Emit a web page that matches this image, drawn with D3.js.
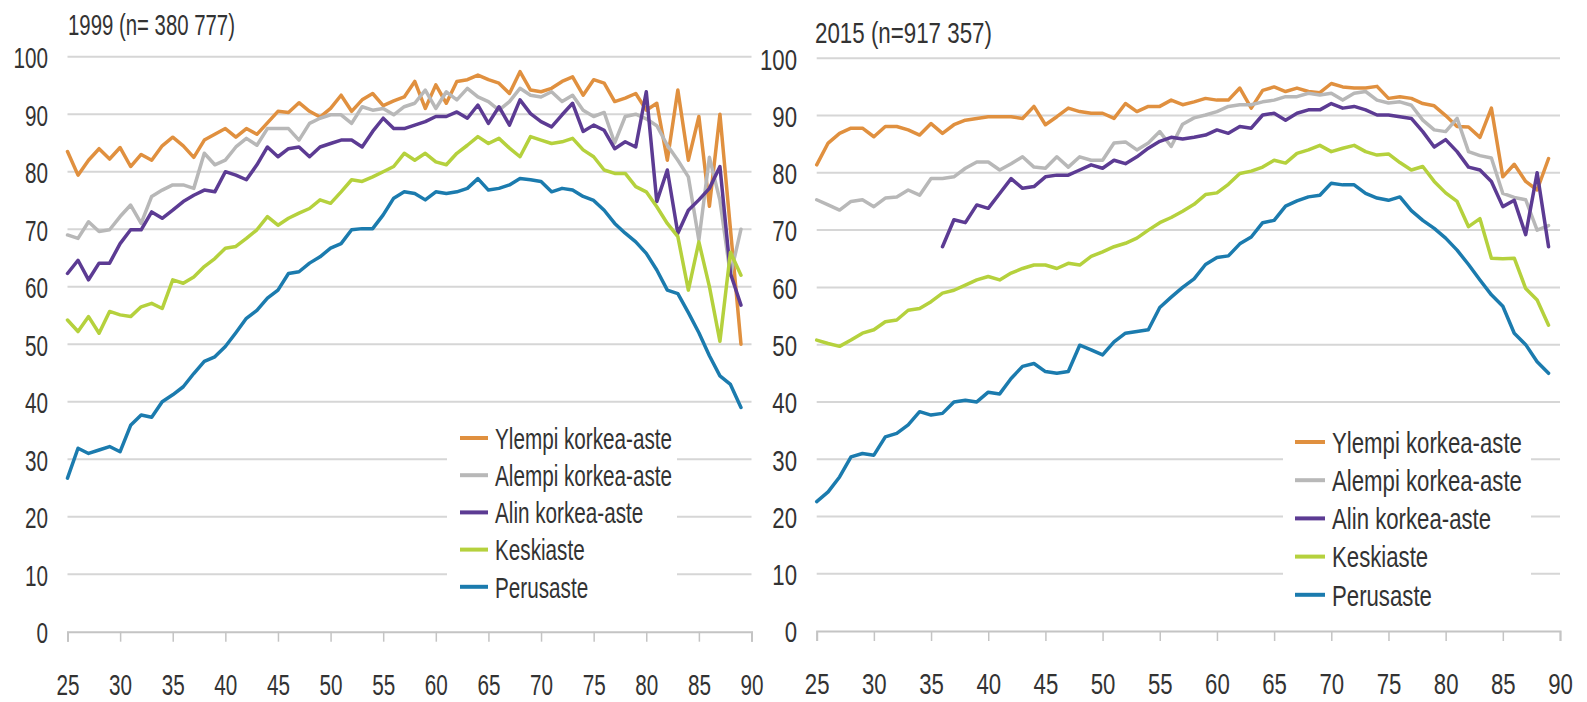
<!DOCTYPE html>
<html><head><meta charset="utf-8">
<script src="https://cdn.jsdelivr.net/npm/d3@7"></script>
<style>body{margin:0;background:#fff} svg{display:block} text{font-family:"Liberation Sans",Arial,sans-serif;}</style>
</head><body><svg id="c" width="1587" height="702"></svg>
<script>
const ages = [25,26,27,28,29,30,31,32,33,34,35,36,37,38,39,40,41,42,43,44,45,46,47,48,49,50,51,52,53,54,55,56,57,58,59,60,61,62,63,64,65,66,67,68,69,70,71,72,73,74,75,76,77,78,79,80,81,82,83,84,85,86,87,88,89];
const seriesNames = ["Ylempi korkea-aste","Alempi korkea-aste","Alin korkea-aste","Keskiaste","Perusaste"];
const seriesColors = ["#E0903F","#B8B8B8","#5C3B93","#B5D13D","#1B7BAE"];
const xTicks = [25,30,35,40,45,50,55,60,65,70,75,80,85,90];
const yTicks = [0,10,20,30,40,50,60,70,80,90,100];
const titles = ["1999 (n= 380 777)","2015 (n=917 357)"];

// 1999
const ylempi1999 = [83.5,79.4,82,84,82.2,84.2,80.9,83,82,84.5,86,84.5,82.5,85.5,86.5,87.5,86,87.5,86.5,88.5,90.5,90.3,92,90.5,89.5,91,93.3,90.5,92.5,93.6,91.5,92.3,93,95.7,91,95.1,91.9,95.7,96,96.8,96,95.4,93.6,97.4,94.2,93.9,94.5,95.7,96.5,93.3,96,95.4,92.2,92.8,93.6,90.7,91.9,82,94.2,82,89.6,74,90,70,50];
const alempi1999 = [69,68.4,71.3,69.6,69.9,72.2,74.2,71,75.7,76.8,77.7,77.7,77.1,83.2,81.2,82,84.3,85.8,84.6,87.5,87.5,87.5,85.5,88.4,89.3,89.9,89.9,88.4,91.3,90.7,91,89.9,91.3,91.9,94.2,91,93.9,92.5,94.5,93,92.2,90.7,92.2,94.5,93.3,93,93.9,92.2,93.3,90.7,89.6,90.3,85,89.6,90,89.2,88,84.6,82,79.1,68.1,82.5,75,62,70];
const alin1999 = [62.3,64.6,61.2,64.1,64.1,67.5,69.9,69.9,73,71.9,73.3,74.8,75.9,76.8,76.5,80,79.4,78.6,81.2,84.3,82.6,84,84.3,82.6,84.3,84.9,85.5,85.5,84.3,87,89.3,87.5,87.5,88.1,88.7,89.6,89.6,90.4,89.3,91.6,88.4,91.3,88.1,92.5,90.1,88.7,87.8,89.9,91.9,87,88.1,87.2,84,85.2,84.3,93.9,74.8,80.3,69.3,73.3,75.1,77.1,80.9,62.3,56.8];
const keski1999 = [54.2,52.2,54.8,51.9,55.7,55.1,54.8,56.5,57.1,56.2,61.2,60.6,61.7,63.5,64.9,66.7,67,68.4,69.9,72.2,70.7,71.9,72.8,73.6,75.1,74.5,76.5,78.6,78.3,79.1,80,80.9,83.2,82,83.2,81.7,81.2,83.2,84.6,86.1,84.9,85.8,84.1,82.6,86.1,85.5,84.9,85.2,85.8,83.8,82.6,80.3,79.7,79.7,77.4,76.5,73.9,71,68.7,59.4,67.8,60,50.5,66,62];
const perus1999 = [26.7,31.9,31,31.6,32.2,31.3,35.9,37.7,37.3,40,41.2,42.6,44.9,47,47.8,49.6,52,54.5,55.9,58,59.4,62.3,62.6,64.1,65.2,66.7,67.5,69.9,70.1,70.1,72.5,75.4,76.5,76.2,75.1,76.5,76.2,76.5,77.1,78.8,76.8,77.1,77.7,78.8,78.6,78.3,76.5,77.1,76.8,75.7,75,73.3,71,69.3,67.8,65.8,62.9,59.4,58.8,55.5,52,48,44.5,43,39];

// 2015
const ylempi2015 = [81.4,85.2,86.9,87.8,87.8,86.3,88.1,88.1,87.5,86.6,88.6,86.9,88.4,89.2,89.5,89.8,89.8,89.8,89.5,91.6,88.4,89.8,91.3,90.7,90.4,90.4,89.5,92.1,90.7,91.6,91.6,92.7,91.9,92.4,93,92.7,92.7,94.8,91.3,94.4,95,94.2,94.8,94.2,94,95.6,95,94.8,94.8,95.1,93,93.3,93,92.1,91.7,90,88.1,88,86.2,91.3,79.3,81.5,78.5,77,82.5];
const alempi2015 = [75.3,74.4,73.5,75,75.3,74.1,75.6,75.8,77,76.1,79,79,79.3,80.8,81.9,81.9,80.5,81.6,82.8,81,80.8,82.8,81,82.8,82.2,82.2,85.2,85.4,84,85.2,87.2,84.6,88.5,89.6,90.1,90.7,91.6,91.9,91.9,92.4,92.7,93.3,93.3,93.9,93.6,93.9,92.7,93.9,94.2,92.7,92.2,92.4,91.8,89.2,87.5,87.2,89.5,83.7,83,82.6,76.4,75.7,75.3,70,70.8];
const alin2015 = [null,null,null,null,null,null,null,null,null,null,null,67.1,71.8,71.3,74.4,73.8,76.4,79,77.3,77.6,79.3,79.6,79.6,80.5,81.4,80.8,82.2,81.6,82.8,84.3,85.5,86.2,85.9,86.2,86.6,87.5,86.9,88.1,87.8,90.1,90.4,89.2,90.4,91,91,92.1,91.3,91.6,91,90.1,90.1,89.8,89.5,87.2,84.5,85.8,83.7,81,80.5,78.5,74.1,75.2,69.2,80,67.1];
const keski2015 = [50.8,50.2,49.7,50.8,52,52.6,54,54.3,56,56.3,57.5,59,59.5,60.4,61.3,61.9,61.3,62.5,63.3,63.9,63.9,63.3,64.2,63.9,65.4,66.2,67.1,67.7,68.6,70,71.3,72.2,73.3,74.5,76.2,76.5,78,79.9,80.3,81,82.2,81.7,83.4,84,84.8,83.7,84.3,84.8,83.7,83.1,83.3,81.8,80.5,81.1,78.5,76.5,75,70.6,72,65.1,65,65.1,59.8,57.8,53.4];
const perus2015 = [22.6,24.3,26.9,30.4,31,30.7,33.9,34.5,36,38.3,37.7,38,40,40.3,40,41.7,41.4,44.1,46.2,46.7,45.3,45,45.3,49.9,49.1,48.2,50.5,52,52.3,52.6,56.5,58.3,60,61.5,64,65.2,65.5,67.6,68.8,71.3,71.7,74.2,75.1,75.8,76.1,78.2,77.9,77.9,76.4,75.6,75.2,75.8,73.4,71.7,70.3,68.6,66.5,64,61.3,58.7,56.7,52,50,47,45];

const panels = [
  {title: titles[0], series:[ylempi1999,alempi1999,alin1999,keski1999,perus1999],
   xr:[67.5,751.5], yr:[631.7,56.7], labelX:48, titleX:68, titleY:35, titleW:167, sx:0.69,
   box:[447,418,230,188], legX:460, legLen:28, legTextX:495, legY:438, legStep:37.2},
  {title: titles[1], series:[ylempi2015,alempi2015,alin2015,keski2015,perus2015],
   xr:[816.7,1560], yr:[631,58.3], labelX:797, titleX:815, titleY:43, titleW:177, sx:0.74,
   box:[1283,420,248,192], legX:1295, legLen:30, legTextX:1332, legY:442, legStep:38.2}
];

const svg = d3.select("#c");
svg.append("rect").attr("width",1587).attr("height",702).attr("fill","#fff");
const textColor = "#333333";
const fs = 30;

panels.forEach(p => {
  const g = svg.append("g").attr("class","panel");
  const x = d3.scaleLinear().domain([25,90]).range(p.xr);
  const y = d3.scaleLinear().domain([0,100]).range(p.yr);

  // gridlines
  g.append("g").selectAll("line").data(yTicks.filter(d => d > 0)).join("line")
    .attr("x1", x(25)).attr("x2", x(90))
    .attr("y1", d => y(d)).attr("y2", d => y(d))
    .attr("stroke", "#d6d6d6").attr("stroke-width", 2);

  // x axis
  const xa = g.append("g").attr("transform", `translate(0,${y(0)})`)
    .call(d3.axisBottom(x).tickValues(xTicks).tickSize(10).tickFormat(d3.format("d")));
  xa.select(".domain").attr("stroke", "#c4c4c4").attr("stroke-width", 2);
  xa.selectAll(".tick line").attr("stroke", "#c4c4c4").attr("stroke-width", 1.5);
  xa.selectAll(".tick text").attr("y", 53).attr("dy", "0.35em")
    .attr("font-size", fs).attr("fill", textColor).attr("class", "lbl");

  // y labels
  const ya = g.append("g").attr("transform", `translate(${p.labelX},0)`)
    .call(d3.axisLeft(y).tickValues(yTicks).tickSize(0).tickPadding(0));
  ya.select(".domain").remove();
  ya.selectAll(".tick text").attr("x", 0).attr("dy", "0.36em")
    .attr("font-size", fs).attr("fill", textColor).attr("class", "lbl");

  // legend background box
  g.append("rect").attr("x", p.box[0]).attr("y", p.box[1])
    .attr("width", p.box[2]).attr("height", p.box[3]).attr("fill", "#fff");

  // lines
  const line = d3.line().defined(d => d[1] != null).x(d => x(d[0])).y(d => y(d[1]));
  p.series.forEach((vals, i) => {
    g.append("path").datum(ages.map((a, k) => [a, vals[k]]))
      .attr("d", line).attr("fill", "none")
      .attr("stroke", seriesColors[i]).attr("stroke-width", 3.5)
      .attr("stroke-linejoin", "round").attr("stroke-linecap", "round");
  });

  // legend
  const leg = g.append("g");
  seriesNames.forEach((n, i) => {
    const ly = p.legY + i * p.legStep;
    leg.append("line").attr("x1", p.legX).attr("x2", p.legX + p.legLen)
      .attr("y1", ly).attr("y2", ly).attr("stroke", seriesColors[i]).attr("stroke-width", 4);
    leg.append("text").attr("x", p.legTextX).attr("y", ly).attr("dy", "0.36em")
      .attr("font-size", fs).attr("fill", textColor).attr("class", "lbl").text(n);
  });

  // title
  const t = g.append("text").attr("x", p.titleX).attr("y", p.titleY)
    .attr("font-size", fs).attr("fill", textColor).text(p.title);
  const tw = t.node().getComputedTextLength();
  t.attr("x", 0).attr("transform", `translate(${p.titleX},0) scale(${p.titleW / tw},1)`);

  // horizontal compression of text (condensed look) via transform
  g.selectAll("text.lbl").each(function () {
    const x0 = +(this.getAttribute("x") || 0);
    d3.select(this).attr("x", 0).attr("transform", `translate(${x0},0) scale(${p.sx},1)`);
  });
});
</script>
</body></html>
